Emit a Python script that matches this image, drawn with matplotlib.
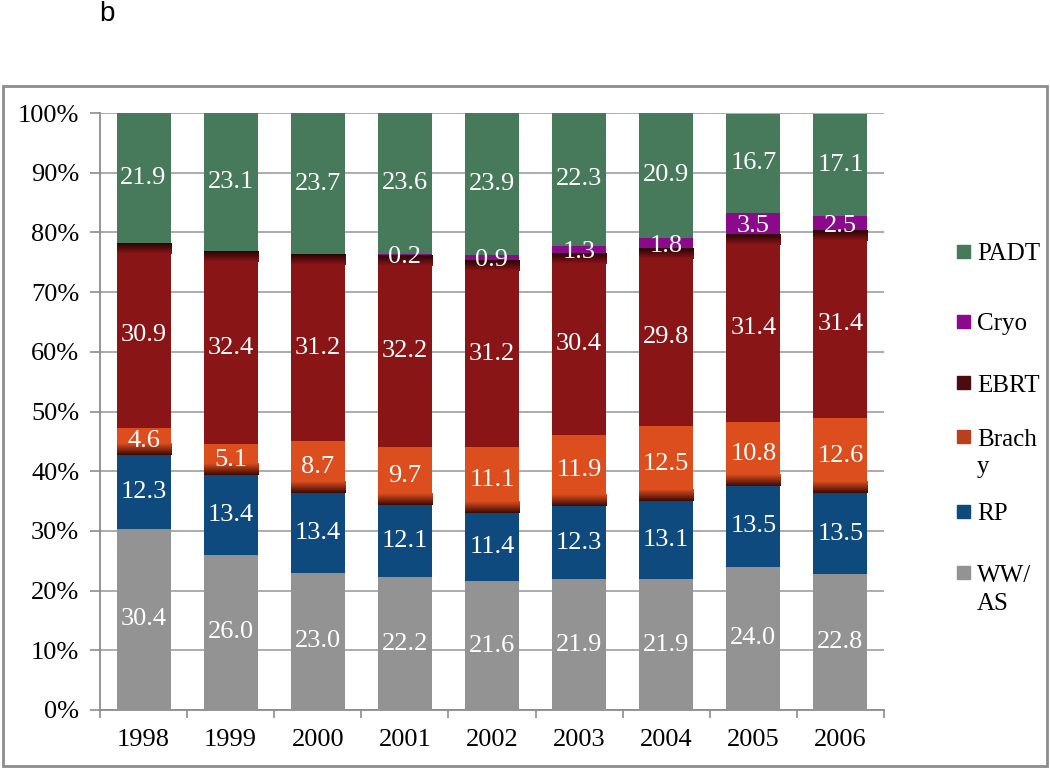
import numpy as np
import matplotlib.pyplot as plt
from matplotlib.patches import Rectangle
from matplotlib.colors import LinearSegmentedColormap

years = ["1998", "1999", "2000", "2001", "2002", "2003", "2004", "2005", "2006"]

ww_as = [30.4, 26.0, 23.0, 22.2, 21.6, 21.9, 21.9, 24.0, 22.8]
rp = [12.3, 13.4, 13.4, 12.1, 11.4, 12.3, 13.1, 13.5, 13.5]
brachy = [4.6, 5.1, 8.7, 9.7, 11.1, 11.9, 12.5, 10.8, 12.6]
ebrt = [30.9, 32.4, 31.2, 32.2, 31.2, 30.4, 29.8, 31.4, 31.4]
cryo = [0.0, 0.0, 0.0, 0.2, 0.9, 1.3, 1.8, 3.5, 2.5]
padt = [21.9, 23.1, 23.7, 23.6, 23.9, 22.3, 20.9, 16.7, 17.1]

series = [
    ("WW/AS", ww_as, "#939393"),
    ("RP", rp, "#0e4a7d"),
    ("Brachy", brachy, "#dd4e1f"),
    ("EBRT", ebrt, "#8a1517"),
    ("Cryo", cryo, "#8b0a8b"),
    ("PADT", padt, "#477a5a"),
]
legend_labels = {"WW/AS": "WW/\nAS", "Brachy": "Brach\ny"}
legend_colors = {"EBRT": "#4a0c0c", "Brachy": "#b8401c"}

serif = "Liberation Serif"

fig = plt.figure(figsize=(10.5, 7.68), dpi=100)
ax = fig.add_axes([100 / 1050, 58 / 768, 784 / 1050, 597 / 768])

x = np.arange(len(years))
bottom = np.zeros(len(years))
for name, vals, color in series:
    vals = np.array(vals)
    bars = ax.bar(x, vals, width=0.62, bottom=bottom, color=color, zorder=3)
    # shading like the original: dark fade at bottom of Brachy, top of EBRT
    if name in ("Brachy", "EBRT"):
        grad = np.linspace(0, 1, 30).reshape(-1, 1)
        for rect in bars:
            if rect.get_height() <= 0:
                continue
            if name == "Brachy":
                h = 2.0
                cmap = LinearSegmentedColormap.from_list("g", ["#3c0a05", color])
                y0 = rect.get_y()
            else:
                h = 1.8
                cmap = LinearSegmentedColormap.from_list("g", [color, "#2a0404"])
                y0 = rect.get_y() + rect.get_height() - h
            ax.imshow(grad, cmap=cmap, aspect="auto", zorder=4, origin="lower",
                      extent=[rect.get_x(), rect.get_x() + rect.get_width(), y0, y0 + h])
    for xi, v, b in zip(x, vals, bottom):
        if v <= 0:
            continue
        yy = b + v / 2 - (0.4 if name == "Cryo" else 0)
        ax.text(xi, yy, f"{v:.1f}", ha="center", va="center",
                color="white", fontsize=19, family=serif, zorder=5)
    bottom += vals

ax.set_xlim(-0.5, len(years) - 0.5)
ax.set_ylim(0, 100)
ax.set_yticks(np.arange(0, 101, 10))
ax.set_yticklabels([f"{t}%" for t in range(0, 101, 10)], family=serif, fontsize=19)
ax.set_xticks(x)
ax.set_xticklabels(years, family=serif, fontsize=19)
ax.set_xticks(np.arange(-0.5, len(years), 1), minor=True)
ax.tick_params(axis="x", which="major", length=0, pad=14)
ax.tick_params(axis="x", which="minor", length=6, color="#8c8c8c", width=1.2)
ax.tick_params(axis="y", length=7, color="#8c8c8c", width=1.2, pad=8)
ax.yaxis.grid(True, color="#a6a6a6", linewidth=1.3, zorder=0)
ax.set_axisbelow(True)
for s in ("top", "right"):
    ax.spines[s].set_visible(False)
for s in ("left", "bottom"):
    ax.spines[s].set_color("#8c8c8c")
    ax.spines[s].set_linewidth(1.3)

# legend drawn by hand so the rows sit where the original puts them
order = ["PADT", "Cryo", "EBRT", "Brachy", "RP", "WW/AS"]
legend_rows = [252, 322, 383, 437, 512, 573]  # pixel y of first text line
colors = {n: c for n, _, c in series}
for name, py in zip(order, legend_rows):
    fig.patches.append(Rectangle((957 / 1050, 1 - (py + 6) / 768), 13 / 1050, 13 / 768,
                                 transform=fig.transFigure,
                                 color=legend_colors.get(name, colors[name])))
    for i, line in enumerate(legend_labels.get(name, name).split("\n")):
        fig.text(977 / 1050, 1 - (py + i * 28) / 768, line,
                 family=serif, fontsize=18, ha="left", va="center_baseline")

# outer chart frame
fig.patches.append(Rectangle((3 / 1050, 2 / 768), 1044 / 1050, 680 / 768,
                             transform=fig.transFigure, fill=False,
                             edgecolor="#8c8c8c", linewidth=2))
fig.text(107 / 1050, 1 - 14 / 768, "b", family="Liberation Sans", fontsize=20,
         ha="center", va="center")

fig.savefig("out.png", dpi=100)
